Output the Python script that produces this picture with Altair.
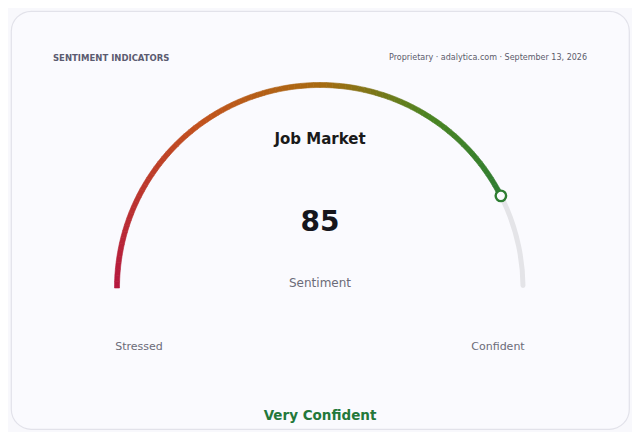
import math
import altair as alt
import pandas as pd

# ---- data ----
gauge_title = ["Job Market"]
gauge_value = [85]
gauge_min = [0]
gauge_max = [100]
metric_label = ["Sentiment"]
min_label = ["Stressed"]
max_label = ["Confident"]
status_label = ["Very Confident"]
header_left = ["SENTIMENT INDICATORS"]
header_right = ["Proprietary · adalytica.com · September 13, 2026"]

# gradient stops along the gauge (value -> colour)
grad_stops = [0, 30, 50, 68, 85]
grad_colors = ["#b5173f", "#c2521d", "#a86a10", "#4a8421", "#2e7d32"]

W, H = 618, 418
CX, CY = 309, 277
R_OUT, R_IN = 205.5, 200.5
R_MID = (R_OUT + R_IN) / 2

vmin, vmax, val = gauge_min[0], gauge_max[0], gauge_value[0]

theta_scale = alt.Scale(domain=[vmin, vmax], range=[-math.pi / 2, math.pi / 2])

track_df = pd.DataFrame({"start": [vmin], "end": [vmax]})
seg_df = pd.DataFrame({"start": list(range(vmin, val)),
                       "end": [s + 1 for s in range(vmin, val)]})
seg_df["mid"] = (seg_df["start"] + seg_df["end"]) / 2
val_df = pd.DataFrame({"value": gauge_value})

track = alt.Chart(track_df).mark_arc(
    radius=R_OUT, radius2=R_IN, cornerRadius=2.5, color="#e4e4e8"
).encode(
    theta=alt.Theta("start:Q", scale=theta_scale, stack=None),
    theta2="end:Q",
    x=alt.value(CX), y=alt.value(CY),
)

color_scale = alt.Scale(domain=grad_stops, range=grad_colors, interpolate="rgb")
segs = alt.Chart(seg_df).mark_arc(
    radius=R_OUT, radius2=R_IN, strokeWidth=0.6
).encode(
    theta=alt.Theta("start:Q", scale=theta_scale, stack=None),
    theta2="end:Q",
    fill=alt.Fill("mid:Q", scale=color_scale, legend=None),
    stroke=alt.Stroke("mid:Q", scale=color_scale, legend=None),
    x=alt.value(CX), y=alt.value(CY),
)

marker = alt.Chart(val_df).transform_calculate(
    ang=f"(datum.value - {vmin}) / ({vmax} - {vmin}) * PI - PI / 2"
).transform_calculate(
    px=f"{CX} + {R_MID} * sin(datum.ang)",
    py=f"{CY} - {R_MID} * cos(datum.ang)",
).mark_point(
    shape="circle", size=110, filled=True, fill="#fafafe",
    stroke="#2e7d32", strokeWidth=2.4, opacity=1
).encode(
    x=alt.X("px:Q", scale=None, axis=None),
    y=alt.Y("py:Q", scale=None, axis=None),
)

FONT = "DejaVu Sans"

def txt(values, x, y, size, color, weight="normal", align="center"):
    return alt.Chart(pd.DataFrame({"t": values})).mark_text(
        font=FONT, fontSize=size, fontWeight=weight, color=color,
        align=align, baseline="middle"
    ).encode(text="t:N", x=alt.value(x), y=alt.value(y))

texts = [
    txt(header_left, 42, 47, 8.5, "#5b5b70", "bold", "left"),
    txt(header_right, 576, 47, 8, "#5b5b6b", "normal", "right"),
    txt(gauge_title, CX, 128, 15, "#1a1a1a", "bold"),
    txt([str(val)], CX, 212, 28, "#16161c", "bold"),
    txt(metric_label, CX, 272, 12, "#6b6b78"),
    txt(min_label, 128, 336, 11, "#6b6b78"),
    txt(max_label, 487, 336, 11, "#6b6b78"),
    txt(status_label, CX, 405, 13.5, "#23783a", "bold"),
]

chart = alt.layer(track, segs, marker, *texts).properties(
    width=W, height=H,
    padding={"left": 3, "top": 3, "right": 3, "bottom": 3},
    autosize=alt.AutoSizeParams(type="none"),
    background="#f8f8fc",
).configure_view(
    fill="#fafafe", stroke="#e2e2ea", strokeWidth=1.2, cornerRadius=20
)

chart.save("out.html", embed_options={"renderer": "svg", "actions": False})
